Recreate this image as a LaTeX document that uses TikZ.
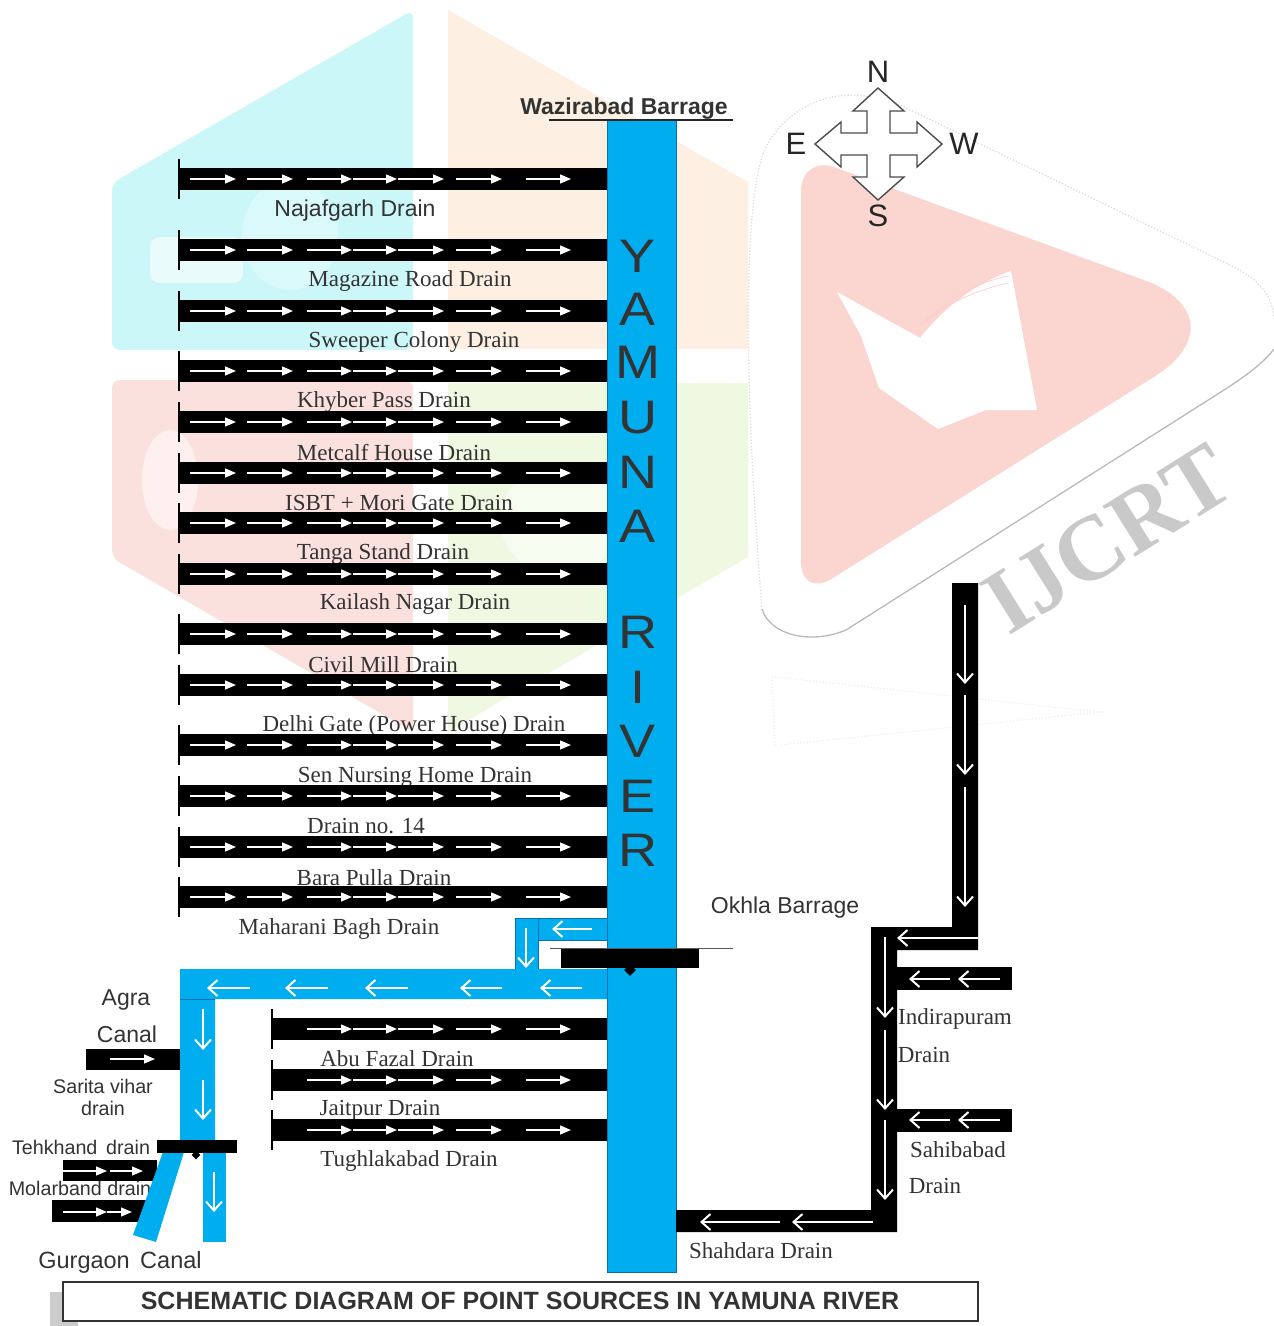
\documentclass[tikz,border=0pt]{standalone}
\usepackage{fontspec}
\setmainfont{Liberation Serif}
\setsansfont{Liberation Sans}
\usetikzlibrary{arrows.meta,shapes}
\definecolor{riverblue}{HTML}{00AEEF}
\definecolor{riveredge}{HTML}{0B6FB0}
\definecolor{inktext}{HTML}{333333}
\definecolor{wmcyan}{HTML}{CBF7F9}
\definecolor{wmorange}{HTML}{FDEFE1}
\definecolor{wmpink}{HTML}{FBE1DD}
\definecolor{wmgreen}{HTML}{EFF9E2}
\definecolor{wmtri}{HTML}{FBD6D0}
\tikzset{
  serlab/.style={text=inktext,inner sep=0pt,font=\fontsize{23}{26}\selectfont},
  sanlab/.style={text=inktext,inner sep=0pt,font=\sffamily\fontsize{23}{26}\selectfont},
  smalllab/.style={text=inktext,inner sep=0pt,font=\sffamily\fontsize{19.7}{22}\selectfont},
  bigcap/.style={text=black!85,inner sep=0pt,font=\sffamily\fontsize{31}{36}\selectfont},
  riverletter/.style={text=inktext,inner sep=0pt,xscale=1.15,transform shape,font=\sffamily\fontsize{47}{50}\selectfont},
  canal/.style={fill=riverblue,draw=riveredge,line width=.5pt},
  flowfwd/.style={draw=white,line width=1.4pt,-{Triangle[length=11pt,width=9pt]}},
  flowbarb/.style={draw=white,line width=1.8pt,-{Straight Barb[length=9pt,width=16pt,line width=2pt]}},
}
\begin{document}
\begin{tikzpicture}[x=1pt,y=-1pt]
\useasboundingbox(0,0)rectangle(1274,1326);
% watermark
\fill[wmcyan,rounded corners=8pt](112,183)--(413,10)--(413,350)--(112,350)--cycle;
\fill[white,opacity=.6,rounded corners=10pt](150,237)rectangle(243,283);
\fill[white,opacity=.3](290,235)ellipse(48 and 55);
\fill[wmorange](448,10)--(748,182)--(748,349)--(448,349)--cycle;
\fill[wmpink,rounded corners=8pt](112,380)--(413,380)--(413,732)--(112,558)--cycle;
\fill[white,opacity=.5](170,480)ellipse(28 and 50);
\fill[wmgreen](448,383)--(748,383)--(748,557)--(448,732)--cycle;
\fill[white,opacity=.5](560,520)ellipse(60 and 55);
\draw[gray!30,dotted,line width=1.2pt](762,610)..controls(745,400)and(740,180)..(770,140)..controls(800,95)and(850,85)..(900,105)--(1230,265)..controls(1262,280)and(1274,300)..(1274,320);
\draw[gray!55,line width=1.3pt](762,609)..controls(770,635)and(810,645)..(846,630)--(1213,397)..controls(1240,380)and(1262,365)..(1274,349);
\fill[wmtri](801,300)[rounded corners=36pt]--(801,155)[rounded corners=110pt]--(1248,318)[rounded corners=36pt]--(801,598)--cycle;
\fill[white](837,292)--(920,338)..controls(950,300)and(985,280)..(1011,271)--(1037,410)--(986,410)--(938,429)--(879,388)--(861,336)--cycle;
\draw[red!20!white,line width=.7pt](920,326)..controls(950,295)and(985,280)..(1009,276)(925,322)..controls(950,300)and(985,288)..(1009,283);
\node[rotate=32,text=gray!42,inner sep=0pt,font=\bfseries\fontsize{92}{94}\selectfont](wmark)at(1108,539){IJCRT};
\draw[gray!14,dotted,line width=1.2pt](772,677)--(775,745)(775,677)--(1100,712)--(780,745);
% river
\fill[canal](607,120)rectangle(676,1272);
\draw[black!85,line width=1.2pt](549,120)--(733,120);
\node[text=inktext,inner sep=0pt,font=\sffamily\bfseries\fontsize{23}{26}\selectfont](wazi)at(624,109){Wazirabad Barrage};
\foreach \y/\t in {256/Y,309/A,362/M,418/U,472/N,526/A,632/R,687/I,741/V,796/E,850/R}
  \node[riverletter](let\y)at(638,\y){\t};
% upper drains
\foreach \y/\x/\ly/\s in {179/355/211/Najafgarh Drain,250/410/281/Magazine Road Drain,311/414/342/Sweeper Colony Drain,371/384/402/Khyber Pass Drain,422/394/453/Metcalf House Drain,473/399/503/ISBT + Mori Gate Drain,523/383/554/Tanga Stand Drain,574/415/604/Kailash Nagar Drain,634/383/665/Civil Mill Drain,685/414/726/Delhi Gate (Power House) Drain,745/415/777/Sen Nursing Home Drain,796/366/826/Drain no. 14,847/374/878/Bara Pulla Drain,897/339/929/Maharani Bagh Drain}{
  \fill[black](180,\y-11)rectangle(607,\y+11);
  \draw[black,line width=1.3pt](179,\y-20)--(179,\y+20);
  \foreach \a/\b in {190/236,247/293,307/352,353/397,398/444,456/502,526/571}
    \draw[flowfwd](\a,\y)--(\b,\y);
  \ifnum\y=179 \node[sanlab](lab\y)at(\x,\ly){\s};\else \node[serlab](lab\y)at(\x,\ly){\s};\fi
}
% lower drains
\foreach \y/\x/\ly/\s in {1029/397/1059/Abu Fazal Drain,1080/380/1110/Jaitpur Drain,1130/409/1161/Tughlakabad Drain}{
  \fill[black](272,\y-11)rectangle(607,\y+11);
  \draw[black,line width=1.3pt](272,\y-20)--(272,\y+20);
  \foreach \a/\b in {307/352,353/397,398/444,456/502,526/571}
    \draw[flowfwd](\a,\y)--(\b,\y);
  \node[serlab](lab\y)at(\x,\ly){\s};
}
% okhla barrage and agra canal
\fill[riverblue](515,918)rectangle(607,940);
\fill[riverblue](515,918)rectangle(538,969);
\draw[riveredge,line width=.5pt](607,918)--(515,918)--(515,969)(538,969)--(538,940)--(607,940)(538,918)--(538,940);
\fill[riverblue](607,969)--(180,969)--(180,1142)--(215,1142)--(215,999)--(607,999)--cycle;
\draw[riveredge,line width=.5pt](180,999)--(215,999)(607,969)--(607,999);
\foreach \a/\b in {592/552,582/540,502/460,408/365,328/285,250/207}{
  \ifnum\a=592 \draw[flowbarb](\a,929)--(\b,929);\else \draw[flowbarb](\a,988)--(\b,988);\fi}
\draw[flowbarb](526,928)--(526,968);
\draw[flowbarb](203,1009)--(203,1050);
\draw[flowbarb](203,1080)--(203,1120);
\draw[black!65,line width=1pt](550,948)--(733,948);
\fill[black](561,949)rectangle(699,968);
\node[diamond,fill=black,minimum size=12pt,inner sep=0pt](okhla)at(630,970){};
\node[sanlab](okhlalab)at(785,908){Okhla Barrage};
% left small drains
\fill[black](86,1049)rectangle(180,1070);
\draw[flowfwd](110,1059)--(155,1059);
\fill[black](63,1160)rectangle(157,1181);
\draw[flowfwd](63,1171)--(107,1171);\draw[flowfwd](110,1171)--(143,1171);
\fill[black](52,1200)rectangle(146,1222);
\draw[flowfwd](63,1212)--(107,1212);\draw[flowfwd](107,1212)--(132,1212);
\node[smalllab](teh)at(81,1147){Tehkhand\, drain};
\node[smalllab](mol)at(80,1188){Molarband drain};
\fill[riverblue](163,1152)--(184,1152)--(156,1242)--(133,1235)--cycle;
\fill[riverblue](203,1152)rectangle(226,1242);
\draw[flowbarb](214,1172)--(214,1212);
\fill[black](157,1140)rectangle(237,1153);
\node[diamond,fill=black,minimum size=9pt,inner sep=0pt](gate)at(196,1155){};
\node[sanlab](agra)at(126,1000){Agra};
\node[sanlab](can)at(127,1034){Canal};
\node[smalllab](sar)at(103,1086){Sarita vihar};
\node[smalllab](sard)at(103,1108){drain};
\node[sanlab,font=\sffamily\fontsize{23.5}{26}\selectfont](gur)at(120,1262){Gurgaon\, Canal};
% compass
\draw[black!70,fill=white,line width=1.4pt](878,88)--(904,111)--(890,111)--(890,133)--(917,133)--(917,122)--(942,144)--(917,167)--(917,155)--(890,155)--(890,177)--(904,177)--(878,200)--(853,177)--(867,177)--(867,155)--(841,155)--(841,167)--(815,144)--(841,122)--(841,133)--(867,133)--(867,111)--(853,111)--cycle;
\node[bigcap](cn)at(878,72){N};
\node[bigcap](cs)at(878,216){S};
\node[bigcap](ce)at(796,144){E};
\node[bigcap](cw)at(964,144){W};
% shahdara
\fill[black](952,583)--(978,583)--(978,950)--(897,950)--(897,1232)--(676,1232)--(676,1210)--(871,1210)--(871,927)--(952,927)--cycle;
\fill[black](897,967)rectangle(1012,990);
\fill[black](897,1109)rectangle(1012,1132);
\draw[flowbarb](965,605)--(965,684);
\draw[flowbarb](965,695)--(965,775);
\draw[flowbarb](965,787)--(965,907);
\draw[flowbarb](978,938)--(897,938);
\draw[flowbarb](885,937)--(885,1018);
\draw[flowbarb](885,1030)--(885,1110);
\draw[flowbarb](885,1120)--(885,1200);
\foreach \y in {979,1120}{\draw[flowbarb](1000,\y)--(958,\y);\draw[flowbarb](950,\y)--(909,\y);}
\draw[flowbarb](873,1222)--(792,1222);
\draw[flowbarb](780,1222)--(700,1222);
\node[serlab](ind)at(955,1019){Indirapuram};
\node[serlab](indd)at(924,1055){Drain};
\node[serlab](sah)at(958,1150){Sahibabad};
\node[serlab](sahd)at(935,1186){Drain};
\node[serlab](sha)at(761,1251){Shahdara Drain};
% title
\fill[gray!40](50,1292)rectangle(78,1326);
\draw[black!80,fill=white,line width=1.2pt](63,1282)rectangle(978,1321);
\node[text=inktext,inner sep=0pt,font=\sffamily\bfseries\fontsize{25}{28}\selectfont](title)at(520,1301){SCHEMATIC DIAGRAM OF POINT SOURCES IN YAMUNA RIVER};
\end{tikzpicture}
\end{document}
